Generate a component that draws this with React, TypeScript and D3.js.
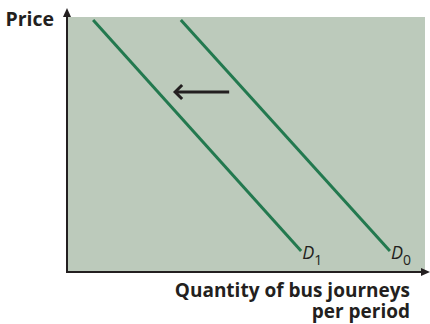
import React from "react";
import * as d3 from "d3";

const demandCurves = [
  { name: "D", sub: "1", points: [[7.3, 98.8], [65.4, 8.2]] },
  { name: "D", sub: "0", points: [[31.8, 98.8], [90.2, 8.2]] },
];
const shiftArrow = [[45.3, 70.6], [30.2, 70.6]];
const yLabel = "Price";
const xLabelLines = ["Quantity of bus journeys", "per period"];

const W = 430, H = 324;
const left = 67, right = 425, top = 17, bottom = 272;

export default function App() {
  const x = d3.scaleLinear().domain([0, 100]).range([left, right]);
  const y = d3.scaleLinear().domain([0, 100]).range([bottom, top]);
  const line = d3.line<number[]>().x(d => x(d[0])).y(d => y(d[1]));
  const green = "#23794f";
  const font = "'Open Sans', sans-serif";
  const ax1 = x(shiftArrow[1][0]);
  const ay = y(shiftArrow[1][1]);
  return (
    <svg width={W} height={H} style={{ position: "absolute", left: 0, top: 0, display: "block" }}>
      <rect x={left} y={top} width={right - left} height={bottom - top} fill="#bccabb" />
      {demandCurves.map((c, i) => {
        const end = c.points[1];
        return (
          <g key={i}>
            <path d={line(c.points) || ""} stroke={green} strokeWidth={3} fill="none" />
            <text x={x(end[0]) + 1} y={y(end[1]) + 8} fontFamily={font} fontSize={18} fill="#231f20">
              <tspan fontStyle="italic">{c.name}</tspan>
              <tspan fontSize={14} dy={6}>{c.sub}</tspan>
            </text>
          </g>
        );
      })}
      <path d={line(shiftArrow) || ""} stroke="#231f20" strokeWidth={3} fill="none" />
      <path d={`M${ax1 + 7},${ay - 7} L${ax1},${ay} L${ax1 + 7},${ay + 7}`} stroke="#231f20" strokeWidth={3} fill="none" strokeLinejoin="miter" />
      {/* axes */}
      <line x1={left} y1={bottom} x2={left} y2={12} stroke="#231f20" strokeWidth={2} />
      <path d={`M${left - 4},${17} L${left},${8} L${left + 4},${17} Z`} fill="#231f20" />
      <line x1={left - 1} y1={bottom} x2={425} y2={bottom} stroke="#231f20" strokeWidth={2} />
      <path d={`M${421},${bottom - 4} L${430},${bottom} L${421},${bottom + 4} Z`} fill="#231f20" />
      <text x={54} y={26} textAnchor="end" fontFamily={font} fontWeight="bold" fontSize={19.5} fill="#231f20">{yLabel}</text>
      {xLabelLines.map((t, i) => (
        <text key={i} x={410} y={297 + i * 21} textAnchor="end" fontFamily={font} fontWeight="bold" fontSize={19} fill="#231f20">{t}</text>
      ))}
    </svg>
  );
}
